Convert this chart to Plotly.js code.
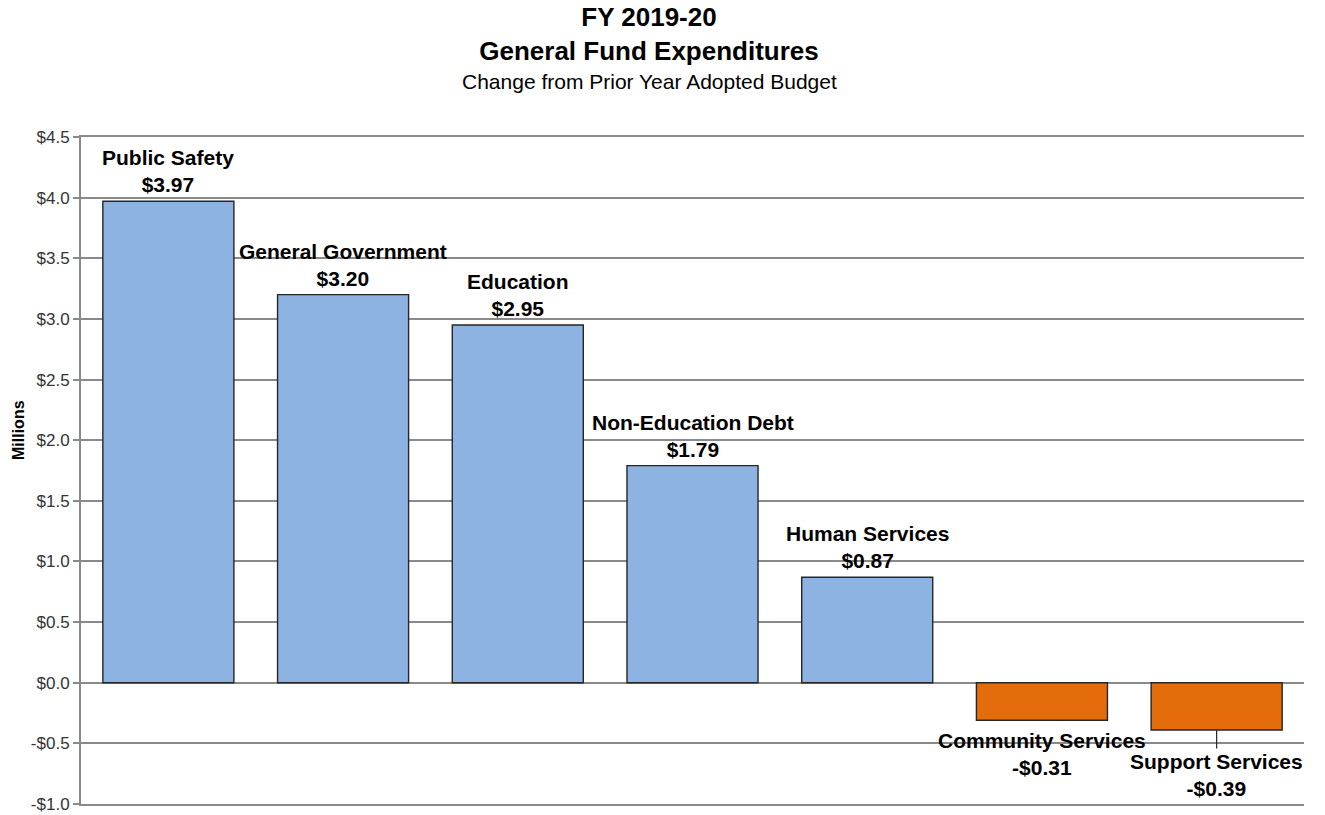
<!DOCTYPE html>
<html>
<head>
<meta charset="utf-8">
<script src="https://cdn.plot.ly/plotly-3.0.1.min.js"></script>
<style>html,body{margin:0;padding:0;background:#fff}#chart{width:1325px;height:815px}</style>
</head>
<body>
<div id="chart"></div>
<script>
const categories = ["Public Safety","General Government","Education","Non-Education Debt","Human Services","Community Services","Support Services"];
const values = [3.97, 3.20, 2.95, 1.79, 0.87, -0.31, -0.39];
const tickVals = [-1.0,-0.5,0.0,0.5,1.0,1.5,2.0,2.5,3.0,3.5,4.0,4.5];
const tickText = ["-$1.0","-$0.5","$0.0","$0.5","$1.0","$1.5","$2.0","$2.5","$3.0","$3.5","$4.0","$4.5"];

const FONT = '"Liberation Sans", Arial, sans-serif';
const fmt = v => (v < 0 ? "-$" : "$") + Math.abs(v).toFixed(2);

const colors = values.map(v => v >= 0 ? "#8DB3E2" : "#E46C0A");
const GRID = "#8a8a8a";

const trace = {
  type: "bar",
  x: categories,
  y: values,
  width: 0.75,
  marker: {color: colors, line: {color: "#262626", width: 1.4}},
  hoverinfo: "x+y"
};

const annotations = categories.map((c, i) => {
  const v = values[i];
  const base = {
    x: c, y: v, xref: "x", yref: "y",
    text: "<b>" + c + "</b><br><b>" + fmt(v) + "</b>",
    font: {family: FONT, size: 21, color: "#000"},
    align: "center", xanchor: "center"
  };
  if (v >= 0) {
    return Object.assign(base, {showarrow: false, yanchor: "bottom", yshift: 3});
  } else if (i === categories.length - 1) {
    return Object.assign(base, {showarrow: true, arrowhead: 0, arrowwidth: 1.2, arrowcolor: "#262626", ax: 0, ay: 45, standoff: 0});
  } else {
    return Object.assign(base, {showarrow: false, yanchor: "top", yshift: -7});
  }
});

annotations.push({
  text: "Change from Prior Year Adopted Budget",
  xref: "paper", yref: "paper", x: (649 - 81) / (1304 - 81), y: 1, yshift: 137 - 81,
  xanchor: "center", yanchor: "middle", showarrow: false,
  font: {family: FONT, size: 21, color: "#000"}
});
annotations.push({
  text: "<b>Millions</b>",
  xref: "paper", yref: "paper", x: 0, xshift: -63, y: (804 - 430) / (804 - 137),
  xanchor: "center", yanchor: "middle", showarrow: false, textangle: -90,
  font: {family: FONT, size: 16, color: "#000"}
});

const layout = {
  width: 1325, height: 815,
  paper_bgcolor: "#fff", plot_bgcolor: "#fff",
  margin: {l: 81, r: 21, t: 137, b: 11},
  showlegend: false,
  title: {
    text: "<b>FY 2019-20</b><br><b>General Fund Expenditures</b>",
    font: {family: FONT, size: 26, color: "#000"},
    xref: "container", x: 649 / 1325, xanchor: "center",
    yref: "container", y: 0.968, yanchor: "top"
  },
  xaxis: {
    type: "category", showticklabels: false, showgrid: false, zeroline: false,
    showline: true, mirror: true, linecolor: GRID, linewidth: 2,
    ticks: "", range: [-0.5, 6.5]
  },
  yaxis: {
    range: [-1.0, 4.5], tickvals: tickVals, ticktext: tickText,
    showgrid: true, gridcolor: GRID, gridwidth: 2,
    zeroline: false, showline: true, linecolor: GRID, linewidth: 2,
    ticks: "outside", ticklen: 6, tickcolor: GRID, tickwidth: 2,
    tickfont: {family: FONT, size: 17, color: "#333"}
  },
  annotations: annotations
};

Plotly.newPlot("chart", [trace], layout, {displayModeBar: false, staticPlot: true});
</script>
</body>
</html>
